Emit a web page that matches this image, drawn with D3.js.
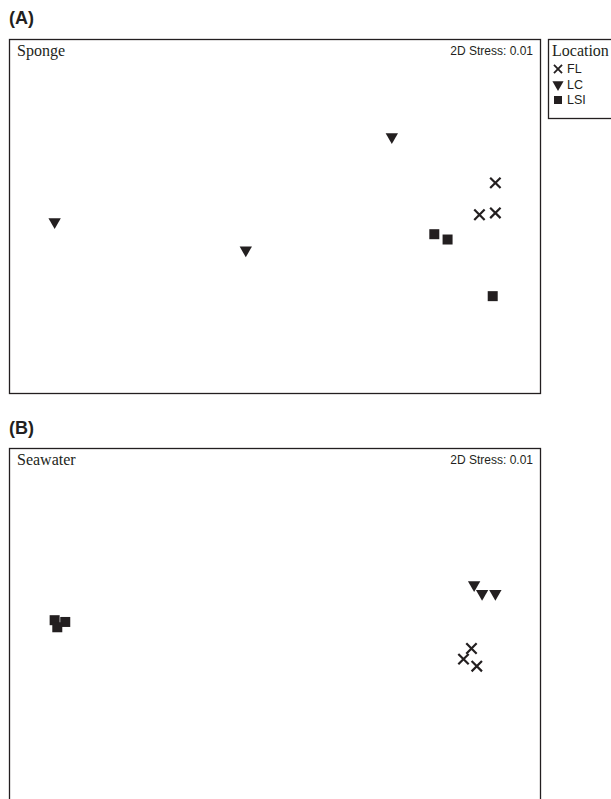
<!DOCTYPE html>
<html><head><meta charset="utf-8">
<script src="https://cdn.jsdelivr.net/npm/d3@7"></script>
<style>body{margin:0;background:#fff}svg{display:block}</style>
</head><body>
<script>
const locations = ["FL", "LC", "LSI"];
// Panel A: Sponge (NMDS coordinates)
const spongeFL  = [[0.83, 0.19], [0.77, 0.01], [0.83, 0.02]];
const spongeLC  = [[-0.83, -0.03], [-0.11, -0.19], [0.44, 0.45]];
const spongeLSI = [[0.60, -0.10], [0.65, -0.13], [0.82, -0.45]];
// Panel B: Seawater
const seaFL  = [[0.74, -0.13], [0.71, -0.19], [0.76, -0.23]];
const seaLC  = [[0.75, 0.23], [0.78, 0.18], [0.83, 0.18]];
const seaLSI = [[-0.83, 0.03], [-0.79, 0.02], [-0.82, -0.01]];
const stressA = "2D Stress: 0.01", stressB = "2D Stress: 0.01";

const W = 611, H = 799;
const svg = d3.select("body").append("svg").attr("width", W).attr("height", H);

const sym = {
  FL: d3.symbol().type(d3.symbolTimes).size(72),
  LC: d3.symbol().type(d3.symbolTriangle).size(66),
  LSI: d3.symbol().type(d3.symbolSquare).size(100)
};
function drawMarker(g, loc, x, y) {
  const p = g.append("path").attr("d", sym[loc]());
  if (loc === "FL") p.attr("fill", "none").attr("stroke", "#231f20").attr("stroke-width", 2.2)
      .attr("transform", `translate(${x},${y})`);
  else if (loc === "LC") p.attr("fill", "#231f20").attr("transform", `translate(${x},${y}) rotate(180)`);
  else p.attr("fill", "#231f20").attr("transform", `translate(${x},${y})`);
}

function panel(letter, letterY, top, title, stress, series) {
  const left = 9.5, right = 540.5, bottom = top + 354;
  svg.append("text").attr("x", 9).attr("y", letterY).text(letter)
    .attr("font-family", "Liberation Sans, Arial, sans-serif").attr("font-weight", "bold")
    .attr("font-size", 18).attr("fill", "#231f20");
  svg.append("rect").attr("x", left).attr("y", top).attr("width", right - left).attr("height", bottom - top)
    .attr("fill", "none").attr("stroke", "#231f20").attr("stroke-width", 1.3);
  svg.append("text").attr("x", 17).attr("y", top + 16).text(title)
    .attr("font-family", "Liberation Serif, Times New Roman, serif").attr("font-size", 16).attr("fill", "#231f20");
  svg.append("text").attr("x", 533).attr("y", top + 15).attr("text-anchor", "end").text(stress)
    .attr("font-family", "Liberation Sans, Arial, sans-serif").attr("font-size", 12).attr("fill", "#231f20");
  const x = d3.scaleLinear().domain([-1, 1]).range([left, right]);
  const y = d3.scaleLinear().domain([-1, 1]).range([bottom, top]);
  const g = svg.append("g");
  locations.forEach((loc, i) => {
    series[i].forEach(d => drawMarker(g, loc, x(d[0]), y(d[1])));
  });
}

panel("(A)", 24, 39.5, "Sponge", stressA, [spongeFL, spongeLC, spongeLSI]);
panel("(B)", 434, 448.5, "Seawater", stressB, [seaFL, seaLC, seaLSI]);

// Legend
const lg = svg.append("g");
lg.append("rect").attr("x", 548.5).attr("y", 39.5).attr("width", 70).attr("height", 79)
  .attr("fill", "none").attr("stroke", "#231f20").attr("stroke-width", 1.3);
lg.append("text").attr("x", 552).attr("y", 56).text("Location")
  .attr("font-family", "Liberation Serif, Times New Roman, serif").attr("font-size", 16).attr("fill", "#231f20");
const ly = d3.scalePoint().domain(locations).range([73, 104]);
locations.forEach(loc => {
  const lsym = {
    FL: d3.symbol().type(d3.symbolTimes).size(44),
    LC: d3.symbol().type(d3.symbolTriangle).size(54),
    LSI: d3.symbol().type(d3.symbolSquare).size(64)
  }[loc];
  const p = lg.append("path").attr("d", lsym());
  const cx = 558, cy = ly(loc) - 4;
  if (loc === "FL") p.attr("fill", "none").attr("stroke", "#231f20").attr("stroke-width", 1.8).attr("transform", `translate(${cx},${cy})`);
  else if (loc === "LC") p.attr("fill", "#231f20").attr("transform", `translate(${cx},${cy}) rotate(180)`);
  else p.attr("fill", "#231f20").attr("transform", `translate(${cx},${cy})`);
  lg.append("text").attr("x", 567).attr("y", ly(loc)).text(loc)
    .attr("font-family", "Liberation Sans, Arial, sans-serif").attr("font-size", 12.5).attr("fill", "#231f20");
});
</script>
</body></html>
